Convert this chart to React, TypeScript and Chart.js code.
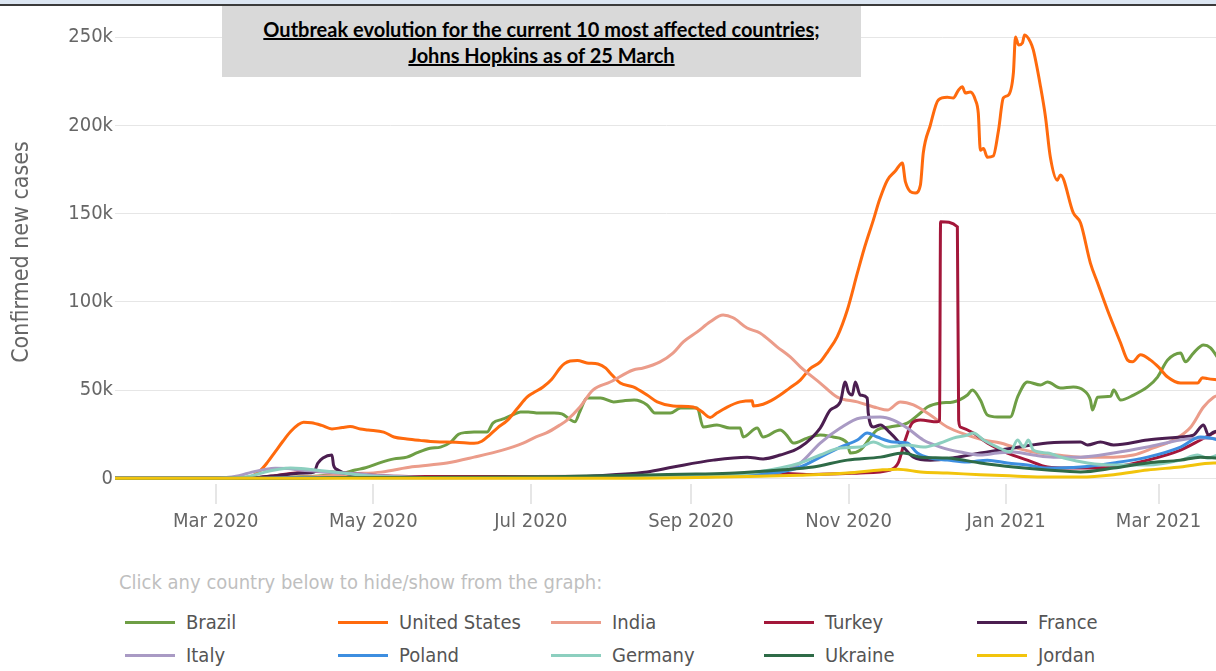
import { useEffect, useRef } from "react";
import { Chart, registerables } from "chart.js";

Chart.register(...registerables);

// x values are day offsets counted from 2020-01-22 (first day of the data)
const xTickDays = [39, 100, 161, 223, 284, 345, 404];
const xTickLabels = ["Mar 2020", "May 2020", "Jul 2020", "Sep 2020", "Nov 2020", "Jan 2021", "Mar 2021"];
const yTickValues = [0, 50000, 100000, 150000, 200000, 250000];
const yTickLabels = ["0", "50k", "100k", "150k", "200k", "250k"];

const countries = ["Brazil", "United States", "India", "Turkey", "France", "Italy", "Poland", "Germany", "Ukraine", "Jordan"];
const colors = ["#6e9e45", "#ff6a0d", "#eb9c8a", "#a3173a", "#4b1e50", "#a99ac4", "#3d8ee0", "#8ccfbf", "#2e6b47", "#f2c40c"];

const brazil: [number, number][] = [
  [0, 0], [45, 0], [60, 200], [70, 800], [80, 1500], [88, 2800], [93, 4700], [97, 6000], [103, 9000], [108, 11000],
  [113, 12000], [117, 14500], [122, 17000], [126, 17700], [130, 20500], [133, 25000], [136, 26000], [139, 26200],
  [144, 26200], [146.3, 31300], [150, 33500], [154, 35900], [157, 37600], [160, 37600], [164, 37000], [170, 37000],
  [173, 36500], [176, 33500], [178, 32000], [180, 38000], [182.7, 45500], [188, 45500], [193, 43300], [197, 44000],
  [201, 44400], [206, 41600], [209, 37000], [215, 37000], [219, 39900], [225.4, 39900], [227.7, 29100], [233, 30200],
  [238, 28500], [242, 28500], [243.2, 23400], [248.6, 28500], [250.9, 23400], [257.5, 27400], [260, 24500],
  [262.6, 20000], [268, 22800], [273, 24500], [278, 23400], [283.5, 20000], [284.6, 14300], [288.5, 16000],
  [295, 27400], [300, 29100], [306.7, 31300], [311.8, 37000], [314.5, 40400], [319.5, 42700], [324.5, 43300],
  [330, 47200], [331.9, 50100], [335, 44400], [337.7, 35900], [341.6, 34800], [346.6, 34800], [349.4, 46000],
  [353.2, 54600], [358.3, 52900], [361, 54600], [366, 51200], [371, 51800], [374.9, 50000], [377.6, 44400],
  [378.4, 38700], [380.4, 46000], [385.4, 46500], [386.6, 50000], [389.3, 44400], [394.3, 47200], [399.7, 51800],
  [403.6, 57400], [407.5, 67000], [412.5, 71000], [414.4, 66000], [417.5, 71000], [421.4, 75600], [424.1, 74000],
  [427, 68200],
];

const unitedStates: [number, number][] = [
  [0, 0], [44, 0], [50, 300], [53, 1200], [56, 4000], [59, 9000], [62, 15000], [65, 21000], [68, 26500], [71, 30500],
  [73, 31800], [76, 31500], [80, 30000], [84, 28000], [88, 28800], [91, 29300], [95, 28000], [98, 27400],
  [104, 26200], [108, 23400], [113, 22300], [118, 21500], [124, 20700], [132, 20500], [139, 19800], [142, 21000],
  [145, 24500], [148, 28500], [152, 33000], [156, 40000], [159.5, 46000], [162, 48500], [165.7, 51800],
  [169, 56000], [172.3, 62500], [174, 65000], [176.2, 66500], [179, 66800], [182.7, 65400], [187, 64800],
  [190, 62500], [191.7, 59700], [195.6, 54000], [200.6, 51800], [206, 47200], [209.9, 43300], [216.1, 41000],
  [223.8, 40400], [227, 38000], [230.4, 34500], [233, 37000], [237, 40400], [242, 43300], [246.7, 44000],
  [247.1, 41000], [250.9, 42000], [254, 44000], [257.5, 47200], [261, 51000], [265.3, 55700], [269, 62000],
  [273, 66000], [276, 72000], [279.6, 80300], [283.5, 95400], [287.4, 116400], [290, 130000], [293.6, 146500],
  [296, 158000], [299, 169000], [302, 174000], [304.8, 178800], [306, 168000], [309.8, 161700], [311.8, 166300],
  [312.9, 184400], [315.6, 200000], [318.7, 214400], [322.2, 216000], [324.5, 215600], [326.5, 220000],
  [328, 222000], [329.2, 218400], [331.1, 219000], [333.1, 214400], [334.2, 207000], [335, 186000],
  [336.2, 187000], [337.7, 182000], [340, 182700], [342, 197000], [343.9, 215600], [345.9, 217300],
  [347.8, 230000], [348.6, 250200], [349.8, 245600], [351.3, 246800], [352.1, 251300], [354.4, 247300],
  [355.5, 242800], [358.3, 222000], [360.2, 205000], [362.1, 182000], [364.8, 169000], [366, 172000],
  [371, 150400], [373.8, 144700], [377.6, 122000], [380.4, 110700], [384.2, 95400], [389.3, 76700], [392, 67000],
  [393.9, 66000], [397, 70000], [400.9, 67000], [404, 63000], [407.5, 57400], [412.5, 54000], [419.1, 54000],
  [421, 57000], [423, 56500], [427, 55800],
];

const india: [number, number][] = [
  [0, 0], [40, 0], [60, 100], [70, 600], [80, 1200], [92, 2500], [103, 3500], [115, 6500], [128.5, 8700],
  [139, 12000], [150, 16000], [158, 20000], [163, 23500], [167, 25700], [172, 30000], [175, 33000], [180, 40400],
  [185, 50000], [191.7, 54600], [200.6, 61400], [204.5, 62500], [211, 66000], [216, 71000], [220, 77300],
  [225.4, 83000], [230.4, 88700], [235.4, 92600], [239.3, 91000], [244.7, 85200], [249.7, 82400], [256.3, 74500],
  [261.4, 68800], [265.3, 63200], [273, 54000], [279.6, 46000], [287.4, 43300], [295.1, 39900], [299, 38700],
  [304, 43300], [309.1, 41600], [315.6, 35900], [322.2, 29100], [330, 24500], [336.2, 21700], [342.8, 20000],
  [347.8, 17700], [355.5, 14900], [364.8, 13200], [373.8, 12000], [386.6, 12000], [394.3, 13200], [402, 17200],
  [409.8, 21700], [416.4, 29000], [421.4, 40400], [425.3, 46000], [427, 47000],
];

const turkey: [number, number][] = [
  [0, 0], [50, 0], [55, 300], [62, 1500], [70, 3000], [78, 3800], [84, 3600], [90, 2800], [100, 1800], [110, 1200],
  [130, 1000], [160, 1000], [200, 1200], [230, 1500], [257.5, 2800], [270.3, 2200], [288.5, 3000], [300.1, 4700],
  [303.2, 8700], [305.9, 21700], [308.6, 31300], [311.8, 33000], [318.3, 32000], [319.2, 33000], [319.6, 145500],
  [326.1, 142600], [326.6, 33000], [327.3, 29000], [332.3, 25700], [337.7, 20000], [345.5, 14300], [353.2, 10300],
  [361, 6400], [368.8, 5800], [380.4, 5800], [386.6, 6400], [399.7, 10300], [412.5, 16000], [420.2, 21700],
  [425.3, 25700], [427, 27000],
];

const france: [number, number][] = [
  [0, 0], [45, 0], [55, 500], [62, 1500], [68, 2500], [74, 3000], [77, 3500], [78.5, 8500], [80.5, 11500],
  [84, 13200], [84.6, 7500], [86.3, 4700], [90, 2500], [100, 1200], [120, 500], [160, 500], [180, 900],
  [192.8, 2000], [206, 3600], [216.1, 6400], [231.6, 10300], [244.7, 12000], [250.9, 11000], [257.5, 13200],
  [265.3, 17700], [273, 28500], [276.9, 38700], [280.8, 43300], [282.7, 54600], [283.9, 49000], [285.4, 47200],
  [286.6, 54600], [288.5, 47200], [291.2, 45500], [291.6, 37000], [293.6, 29100], [296.3, 30200], [300.1, 25700],
  [305.2, 17700], [309.1, 12000], [315.6, 10300], [326.1, 12000], [335, 14300], [347.8, 17200], [361, 20000],
  [373.8, 20600], [376.5, 18900], [381.5, 20600], [386.6, 18900], [399.7, 21700], [412.5, 23400], [417.5, 24500],
  [421.4, 30200], [423.3, 24500], [425.3, 26200], [427, 27000],
];

const italy: [number, number][] = [
  [0, 0], [35, 0], [42, 300], [48, 1500], [53, 3500], [58, 5000], [62, 5700], [67, 5500], [72, 4600], [78, 4000],
  [85, 3200], [92, 2700], [100, 1800], [110, 1000], [120, 500], [140, 250], [170, 250], [200, 700], [220, 1300],
  [240, 1900], [250, 2500], [257.5, 3500], [265.3, 8700], [273, 20000], [280.8, 28500], [288.5, 34200],
  [296.3, 34800], [301.3, 33000], [306.7, 28500], [312.9, 21700], [319.5, 17700], [327.3, 14900], [335, 13200],
  [341.6, 14300], [347.8, 14900], [355.5, 13200], [363.3, 12000], [373.8, 12000], [386.6, 14300], [399.7, 17700],
  [412.5, 21700], [420.2, 22800], [427, 22300],
];

const poland: [number, number][] = [
  [0, 0], [45, 0], [55, 100], [70, 400], [90, 400], [120, 350], [160, 500], [200, 700], [220, 800], [235, 1200],
  [245, 2000], [257.5, 3600], [265.3, 6400], [273, 12000], [280.8, 17700], [287.4, 21700], [291.2, 25700],
  [295.1, 23400], [301.3, 20600], [306.7, 20000], [310.6, 14300], [315.6, 11500], [322.2, 10300], [330, 9200],
  [337.7, 10300], [345.5, 8700], [353.2, 7500], [361, 5800], [373.8, 6400], [386.6, 8700], [399.7, 12000],
  [412.5, 17700], [420.2, 23400], [424.1, 22800], [427, 21700],
];

const germany: [number, number][] = [
  [0, 0], [40, 0], [48, 300], [53, 1500], [58, 3500], [63, 5000], [68, 5800], [72, 5600], [76, 5000], [82, 4000],
  [88, 3000], [95, 1800], [105, 900], [120, 500], [150, 450], [190, 1000], [220, 1300], [240, 2000], [257.5, 5800],
  [265.3, 8700], [273, 13200], [280.8, 17200], [288.5, 17700], [293.6, 20600], [299, 17700], [306.7, 18900],
  [312.9, 17700], [319.5, 20000], [324.5, 22800], [330, 24500], [332.3, 25700], [336.2, 21700], [341.6, 17700],
  [346.6, 14900], [349.4, 21700], [351.7, 17700], [353.6, 21700], [355.5, 16000], [361, 14300], [367.3, 11500],
  [376.5, 8700], [386.6, 7500], [399.7, 7500], [412.5, 10300], [419.1, 13200], [423, 11500], [427, 13200],
];

const ukraine: [number, number][] = [
  [0, 0], [50, 0], [70, 100], [90, 400], [110, 400], [130, 600], [150, 700], [170, 900], [190, 1500], [210, 2000],
  [225, 2400], [240, 3000], [257.5, 4700], [270.3, 6400], [283.5, 10300], [296.3, 12000], [305.2, 14300],
  [311.8, 12000], [322.2, 11500], [335, 8700], [347.8, 6400], [361, 4700], [373.8, 3600], [386.6, 5800],
  [399.7, 8700], [412.5, 10300], [420.2, 12000], [427, 11500],
];

const jordan: [number, number][] = [
  [0, 0], [200, 0], [220, 300], [235, 700], [250, 1200], [265, 1800], [283.5, 3000], [296.3, 4700], [303, 5200],
  [311.8, 3600], [322.2, 3000], [335, 2000], [347.8, 1300], [361, 700], [373.8, 700], [386.6, 2000], [399.7, 4700],
  [412.5, 6400], [425.3, 8700], [427, 8700],
];

const series = [brazil, unitedStates, india, turkey, france, italy, poland, germany, ukraine, jordan];

const axisFont = '"DejaVu Sans Condensed", "DejaVu Sans", sans-serif';

export default function App() {
  const ref = useRef<HTMLCanvasElement>(null);

  useEffect(() => {
    if (!ref.current) return;
    const chart = new Chart(ref.current, {
      type: "line",
      data: {
        datasets: series.map((pts, i) => ({
          label: countries[i],
          data: pts.map(([x, y]) => ({ x, y })),
          borderColor: colors[i],
          backgroundColor: colors[i],
          borderWidth: 3,
          pointRadius: 0,
          fill: false,
          order: series.length - i,
          cubicInterpolationMode: "monotone" as const,
        })),
      },
      options: {
        animation: false,
        responsive: false,
        devicePixelRatio: 1,
        layout: { padding: { top: 20, left: 0, right: 0, bottom: 0 } },
        plugins: {
          legend: { display: false },
          tooltip: { enabled: false },
          title: { display: false },
        },
        scales: {
          x: {
            type: "linear",
            min: 0,
            max: 427,
            afterBuildTicks: (s: any) => {
              s.ticks = xTickDays.map((v) => ({ value: v }));
            },
            afterFit: (s: any) => {
              s.height = 76;
            },
            ticks: {
              autoSkip: false,
              maxRotation: 0,
              minRotation: 0,
              padding: 6,
              color: "#666",
              font: { family: axisFont, size: 20 },
              callback: (_v: any, i: number) => xTickLabels[i],
            },
            grid: { drawOnChartArea: false, drawTicks: true, tickLength: 20, color: "#e6e6e6", lineWidth: 2 },
            border: { display: false },
          },
          y: {
            type: "linear",
            min: -3230,
            max: 259800,
            afterBuildTicks: (s: any) => {
              s.ticks = yTickValues.map((v) => ({ value: v }));
            },
            afterFit: (s: any) => {
              s.width = 115;
            },
            ticks: {
              padding: 2,
              color: "#666",
              font: { family: axisFont, size: 20 },
              callback: (_v: any, i: number) => yTickLabels[i],
            },
            grid: { drawTicks: false, color: "#e6e6e6", lineWidth: 1 },
            border: { display: false },
            title: {
              display: true,
              text: "Confirmed new cases",
              color: "#666",
              font: { family: axisFont, size: 23 },
              padding: { top: 8, bottom: 0 },
            },
          },
        },
      },
    });
    return () => chart.destroy();
  }, []);

  return (
    <div
      style={{
        position: "fixed",
        left: 0,
        top: 0,
        width: 1216,
        height: 671,
        overflow: "hidden",
        background: "#fff",
      }}
    >
      <canvas
        ref={ref}
        width={1218}
        height={560}
        style={{ position: "absolute", left: 0, top: 0, width: 1218, height: 560 }}
      />
      <div style={{ position: "absolute", left: 0, top: 0, width: 1216, height: 4, background: "#dce6f2" }} />
      <div style={{ position: "absolute", left: 0, top: 4, width: 1216, height: 2, background: "#3b3b3b" }} />
      <div
        style={{
          position: "absolute",
          left: 222,
          top: 6,
          width: 639,
          height: 71,
          background: "#d9d9d9",
          display: "flex",
          flexDirection: "column",
          justifyContent: "center",
          alignItems: "center",
          fontFamily: "Lato, 'Liberation Sans', sans-serif",
          fontWeight: 700,
          fontSize: 20,
          lineHeight: "26px",
          color: "#000",
          textDecoration: "underline",
        }}
      >
        <div>Outbreak evolution for the current 10 most affected countries;</div>
        <div>Johns Hopkins as of 25 March</div>
      </div>
      <div
        style={{
          position: "absolute",
          left: 119,
          top: 570,
          fontFamily: axisFont,
          fontSize: 20,
          lineHeight: "24px",
          color: "#bfbfbf",
          whiteSpace: "nowrap",
        }}
      >
        Click any country below to hide/show from the graph:
      </div>
      {countries.map((name, i) => {
        const col = i % 5;
        const row = Math.floor(i / 5);
        const x0 = 125 + col * 213;
        const yc = 622 + row * 33;
        return (
          <div key={name}>
            <div
              style={{
                position: "absolute",
                left: x0,
                top: yc - 1.5,
                width: 50,
                height: 3,
                background: colors[i],
              }}
            />
            <div
              style={{
                position: "absolute",
                left: x0 + 61,
                top: yc - 12,
                fontFamily: axisFont,
                fontSize: 20,
                lineHeight: "24px",
                color: "#555",
                whiteSpace: "nowrap",
              }}
            >
              {name}
            </div>
          </div>
        );
      })}
    </div>
  );
}
